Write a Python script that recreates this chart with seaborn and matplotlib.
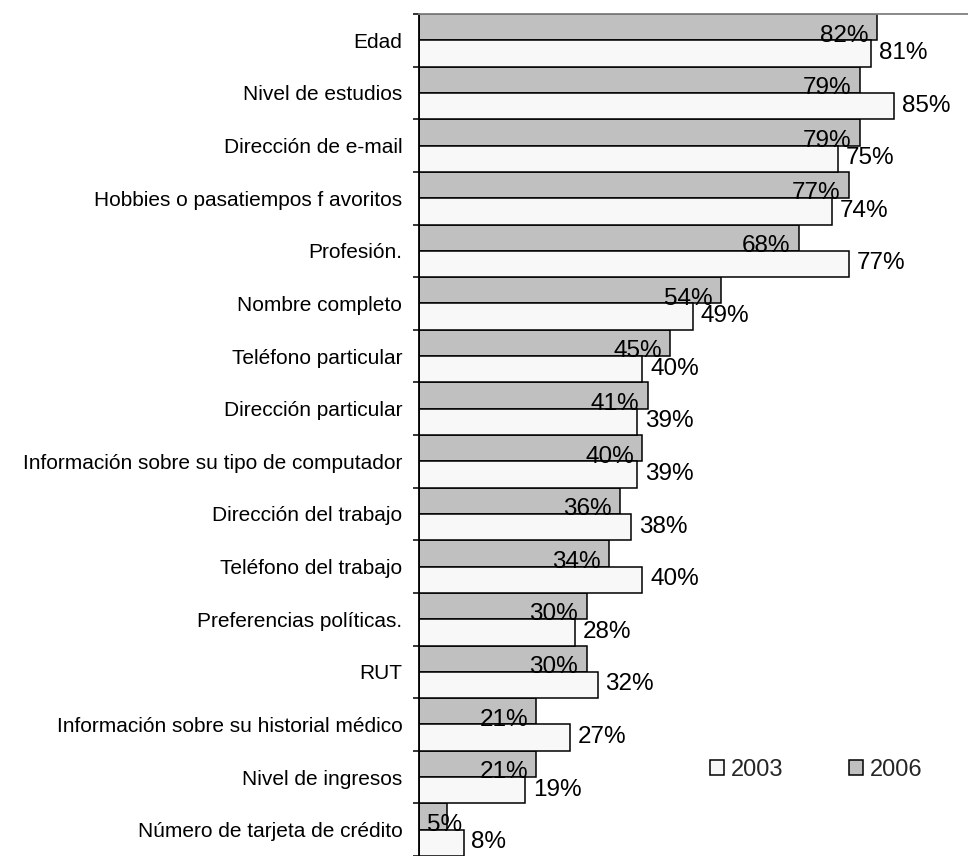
import pandas as pd
import matplotlib.pyplot as plt
import seaborn as sns
from matplotlib.patches import Patch
from matplotlib.ticker import FixedLocator

# datos
categorias = ['Edad', 'Nivel de estudios', 'Dirección de e-mail',
              'Hobbies o pasatiempos f avoritos', 'Profesión.', 'Nombre completo',
              'Teléfono particular', 'Dirección particular',
              'Información sobre su tipo de computador', 'Dirección del trabajo',
              'Teléfono del trabajo', 'Preferencias políticas.', 'RUT',
              'Información sobre su historial médico', 'Nivel de ingresos',
              'Número de tarjeta de crédito']
valores_2006 = [82, 79, 79, 77, 68, 54, 45, 41, 40, 36, 34, 30, 30, 21, 21, 5]
valores_2003 = [81, 85, 75, 74, 77, 49, 40, 39, 39, 38, 40, 28, 32, 27, 19, 8]
anios = ['2006', '2003']
colores = {'2006': '#C0C0C0', '2003': '#F8F8F8'}

df = pd.DataFrame({
    'categoria': categorias * 2,
    'valor': valores_2006 + valores_2003,
    'anio': ['2006'] * len(categorias) + ['2003'] * len(categorias),
})

sns.set_theme(style='white')
plt.rcParams['font.family'] = ['Liberation Sans', 'DejaVu Sans']

fig = plt.figure(figsize=(9.68, 8.56), dpi=100)
ax = fig.add_axes([419 / 968, 0.0, 1 - 419 / 968, 1 - 14 / 856])

sns.barplot(data=df, x='valor', y='categoria', hue='anio', hue_order=anios,
            palette=colores, orient='h', width=1.0, edgecolor='black',
            linewidth=1.1, saturation=1, legend=False, ax=ax)

ax.set_xlim(0, (968 - 419) / 5.585)
ax.set_ylim(len(categorias) - 0.5, -0.5)
ax.set_xlabel('')
ax.set_ylabel('')
ax.set_xticks([])

for s in ['right', 'bottom']:
    ax.spines[s].set_visible(False)
ax.spines['left'].set_color('black')
ax.spines['left'].set_linewidth(1.3)
ax.spines['top'].set_color('#808080')
ax.spines['top'].set_linewidth(1.3)

ax.tick_params(axis='y', which='major', length=0, pad=12, labelsize=15,
               labelcolor='black')
ax.yaxis.set_minor_locator(FixedLocator([i - 0.5 for i in range(len(categorias) + 1)]))
ax.tick_params(axis='y', which='minor', left=True, length=4, width=1.1,
               color='black', direction='out')

# etiquetas de porcentaje
for anio, cont in zip(anios, ax.containers):
    for barra in cont:
        v = barra.get_width()
        yc = barra.get_y() + barra.get_height() / 2
        if anio == '2006':
            if v < 10:
                ax.text(1.4, yc + 0.16, f'{v:.0f}%', ha='left', va='center',
                        fontsize=17.5, color='black')
            else:
                ax.text(v - 1.5, yc + 0.16, f'{v:.0f}%', ha='right', va='center',
                        fontsize=17.5, color='black')
        else:
            ax.text(v + 1.4, yc - 0.01, f'{v:.0f}%', ha='left', va='center',
                    fontsize=17.5, color='black')

handles = [Patch(facecolor=colores['2003'], edgecolor='black', linewidth=1.1, label='2003'),
           Patch(facecolor=colores['2006'], edgecolor='black', linewidth=1.1, label='2006')]
fig.legend(handles=handles, loc='center left', bbox_to_anchor=(710 / 968, 1 - 770 / 856),
           ncol=2, frameon=False, fontsize=17, handlelength=0.6, handleheight=0.6,
           handletextpad=0.3, columnspacing=2.75, borderpad=0, borderaxespad=0)

fig.savefig('out.png', dpi=100)
